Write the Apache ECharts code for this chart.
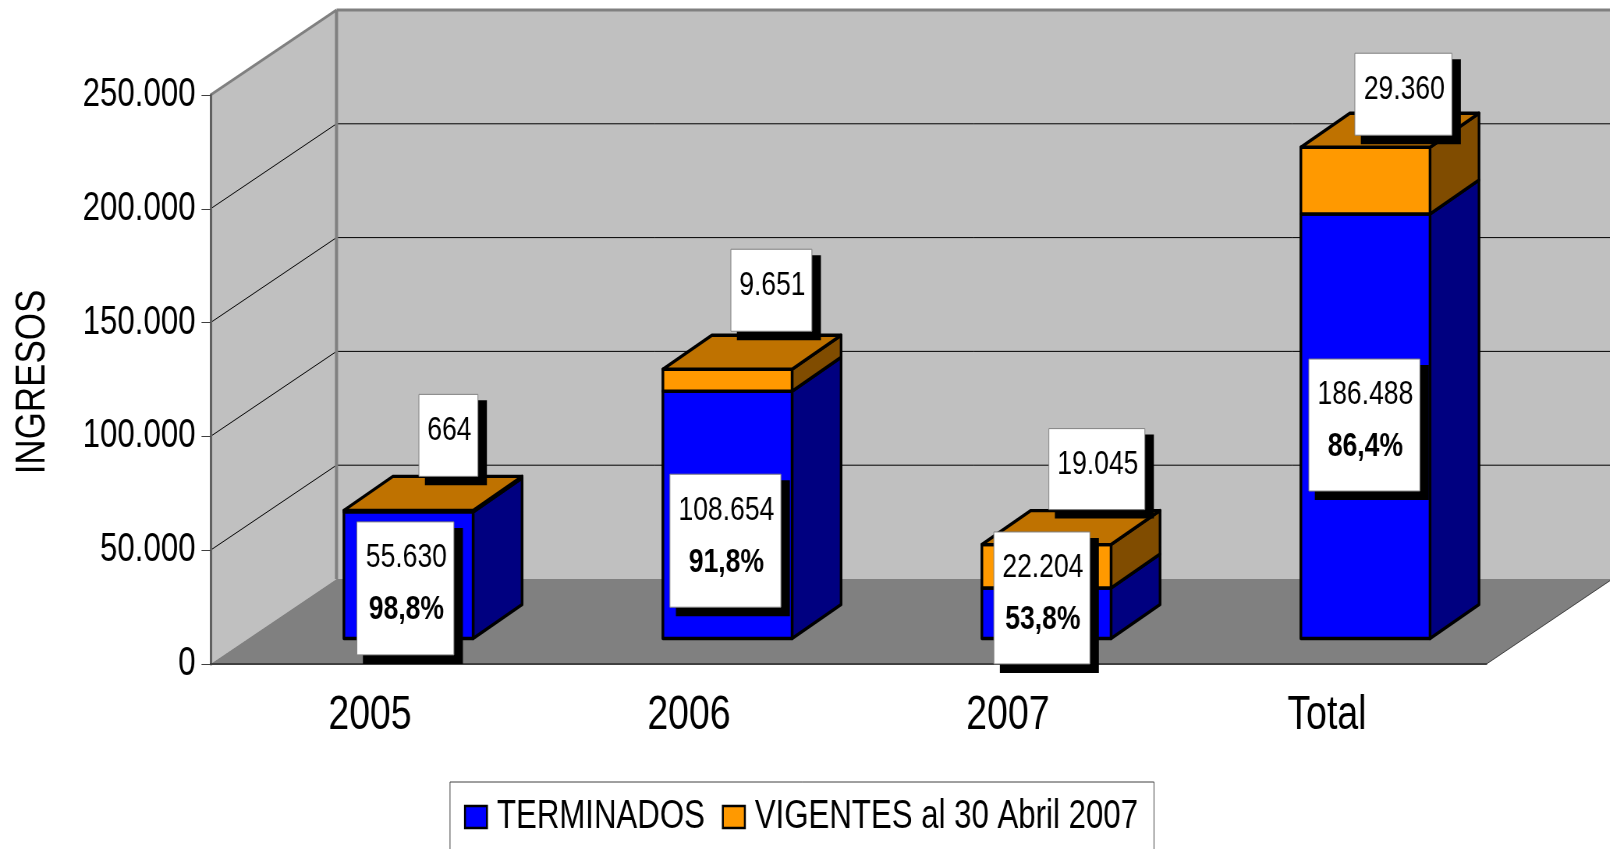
<!DOCTYPE html>
<html>
	<head>
		<meta charset="UTF-8">
		<title>Ingresos</title>
		<script src="https://cdn.jsdelivr.net/npm/echarts@6/dist/echarts.min.js"></script>
		<style>
			html,body{margin:0;padding:0;background:#fff;overflow:hidden}
			#page{width:1610px;height:849px;overflow:hidden}
			/* the lettering of the original is narrow and no narrow font is installed, so squeeze the chart */
			#chart_view{height:849px;transform-origin:0 0}
		</style>
	</head>
	<body>
		<div id="page"><div id="chart_view"></div></div>
	</body>
</html>
<script>
var categories = ['2005','2006','2007','Total'];
var terminados = [55630,108654,22204,186488];
var vigentes = [664,9651,19045,29360];
var porcentajes = ['98,8%','91,8%','53,8%','86,4%'];
var yTicks = [0,50000,100000,150000,200000,250000];

var nameTerminados = 'TERMINADOS';
var nameVigentes = 'VIGENTES al 30 Abril 2007';
var yTitle = 'INGRESOS';

var font = '"Liberation Sans",Arial,sans-serif';
var squeeze = 0.78;
function X(v){ return v/squeeze; }

var wallDepth = [X(126),-85];
var barDepth = [X(49),-34];
var barRatio = 0.405;

// label boxes, offset from the front left corner of the segment they belong to: dx, dy, w, h
var boxesTerminados = [[13,10,97,133],[7,83,111,133],[12,-56,96,132],[8,145,111,132]];
var boxesVigentes = [[75,-116,59,82],[68,-120,81,82],[67,-116,96,81],[54,-94,97,82]];

function fmt(v){
	return String(v).replace(/\B(?=(\d{3})+$)/g,'.');
}

function poly(points,fill,stroke,width){
	return {
		type:'polygon',
		shape:{points:points},
		style:{fill:fill,stroke:stroke || null,lineWidth:width || 0,lineJoin:'round'}
	};
}

function line(x1,y1,x2,y2,color,width){
	return {
		type:'line',
		shape:{x1:x1,y1:y1,x2:x2,y2:y2},
		style:{stroke:color,lineWidth:width,fill:null}
	};
}

function renderWalls(params,api){
	var c = params.coordSys;
	var x0 = c.x, x1 = c.x+c.width;
	var y0 = api.coord([0,0])[1], yTop = api.coord([0,250000])[1];
	var dx = wallDepth[0], dy = wallDepth[1];
	var kids = [
		poly([[x0,y0],[x0+dx,y0+dy],[x0+dx,yTop+dy],[x0,yTop]],'#c0c0c0'),
		poly([[x0+dx,y0+dy],[x1+dx,y0+dy],[x1+dx,yTop+dy],[x0+dx,yTop+dy]],'#c0c0c0'),
		poly([[x0,y0],[x1,y0],[x1+dx,y0+dy],[x0+dx,y0+dy]],'#808080')
	];
	yTicks.forEach(function(t){
		if(t == 0 || t == 250000) return;
		var y = api.coord([0,t])[1];
		kids.push(line(x0,y,x0+dx,y+dy,'#000',1));
		kids.push(line(x0+dx,y+dy,x1+dx,y+dy,'#000',1));
	});
	kids.push(line(x0,yTop,x0+dx,yTop+dy,'#808080',3));
	kids.push(line(x0+dx,yTop+dy,x1+dx,yTop+dy,'#808080',3));
	kids.push(line(x0+dx,yTop+dy,x0+dx,y0+dy,'#808080',4));
	kids.push(line(x1,y0,x1+dx,y0+dy,'#404040',1));
	return {type:'group',children:kids};
}

function segmentRender(front,side,topFace){
	return function(params,api){
		var i = api.value(0);
		var w = api.size([1,0])[0]*barRatio;
		var top = api.coord([i,api.value(1)]);
		var base = api.coord([i,api.value(2)]);
		var sx = (wallDepth[0]-barDepth[0])/2, sy = (wallDepth[1]-barDepth[1])/2;
		var l = top[0]-w/2+sx, r = top[0]+w/2+sx;
		var t = top[1]+sy, b = base[1]+sy;
		var dx = barDepth[0], dy = barDepth[1];
		var kids = [
			poly([[r,t],[r+dx,t+dy],[r+dx,b+dy],[r,b]],side,'#000',3.4),
			poly([[l,t],[r,t],[r,b],[l,b]],front,'#000',3.4)
		];
		if(topFace){
			kids.push(poly([[l,t],[l+dx,t+dy],[r+dx,t+dy],[r,t]],topFace,'#000',3.4));
		}
		return {type:'group',children:kids};
	};
}

function labelRender(boxes,lines){
	return function(params,api){
		var i = api.value(0);
		var w = api.size([1,0])[0]*barRatio;
		var top = api.coord([i,api.value(1)]);
		var sx = (wallDepth[0]-barDepth[0])/2, sy = (wallDepth[1]-barDepth[1])/2;
		var box = boxes[i];
		var x = top[0]-w/2+sx+X(box[0]), y = top[1]+sy+box[1];
		var bw = X(box[2]), bh = box[3];
		var kids = [
			{type:'rect',shape:{x:x+X(6),y:y+6,width:bw+X(3),height:bh+3},style:{fill:'#000'}},
			{type:'rect',shape:{x:x,y:y,width:bw,height:bh},style:{fill:'#fff',stroke:'#808080',lineWidth:1}},
			{type:'text',style:{text:fmt(api.value(2)),x:x+bw/2+X(1),y:y+36,font:'34px '+font,fill:'#000',align:'center',verticalAlign:'middle'}}
		];
		if(lines){
			kids.push({type:'text',style:{text:lines[i],x:x+bw/2+X(1),y:y+88,font:'bold 34px '+font,fill:'#000',align:'center',verticalAlign:'middle'}});
		}
		return {type:'group',children:kids};
	};
}

var terminadosData = terminados.map(function(v,i){ return [i,v,0]; });
var vigentesData = vigentes.map(function(v,i){ return [i,terminados[i]+v,terminados[i]]; });
var labelsT = terminados.map(function(v,i){ return [i,v,v]; });
var labelsV = vigentes.map(function(v,i){ return [i,terminados[i]+v,v]; });

var option = {
	animation:false,
	backgroundColor:'#fff',
	grid:{left:X(210.5),right:X(123.5),top:95,bottom:185,outerBoundsMode:'none'},
	xAxis:{
		type:'category',
		data:categories,
		z:2,
		axisLine:{lineStyle:{color:'#404040',width:2}},
		axisTick:{length:10,alignWithLabel:false,lineStyle:{color:'#404040',width:1}},
		axisLabel:{color:'#000',fontFamily:font,fontSize:48,margin:28},
		splitLine:{show:false}
	},
	yAxis:{
		type:'value',
		min:0,
		max:250000,
		interval:50000,
		z:2,
		axisLine:{show:true,lineStyle:{color:'#606060',width:3}},
		axisTick:{show:true,length:X(9),lineStyle:{color:'#404040',width:1}},
		axisLabel:{color:'#000',fontFamily:font,fontSize:40,margin:X(15),formatter:function(v){ return fmt(v); }},
		splitLine:{show:false}
	},
	// a rotated title has to be squeezed along its length too, an axis name can't do that
	graphic:[{
		type:'text',
		x:X(33),
		y:382,
		rotation:Math.PI/2,
		scaleX:0.648,
		style:{text:yTitle,font:'54px '+font,fill:'#000',align:'center',verticalAlign:'middle'}
	}],
	legend:{
		left:X(450),
		top:782,
		orient:'horizontal',
		padding:[15,X(16),40,X(14)],
		borderWidth:1,
		borderColor:'#404040',
		itemWidth:X(22),
		itemHeight:22,
		itemGap:X(17),
		textStyle:{color:'#000',fontFamily:font,fontSize:40,padding:[0,0,0,X(6)]},
		data:[
			{name:nameTerminados,icon:'rect',itemStyle:{color:'#0000ff',borderColor:'#000',borderWidth:2.5}},
			{name:nameVigentes,icon:'rect',itemStyle:{color:'#ff9900',borderColor:'#000',borderWidth:2.5}}
		]
	},
	series:[
		{type:'custom',name:'walls',z:1,silent:true,data:[[0,0]],renderItem:renderWalls},
		{type:'custom',name:nameTerminados,z:3,silent:true,data:terminadosData,encode:{x:0,y:1},itemStyle:{color:'#0000ff'},renderItem:segmentRender('#0000ff','#000080',null)},
		{type:'custom',name:nameVigentes,z:3,silent:true,data:vigentesData,encode:{x:0,y:1},itemStyle:{color:'#ff9900'},renderItem:segmentRender('#ff9900','#804c00','#bf7200')},
		{type:'custom',name:'labelsV',z:4,silent:true,data:labelsV,encode:{x:0,y:1},renderItem:labelRender(boxesVigentes,null)},
		{type:'custom',name:'labelsT',z:5,silent:true,data:labelsT,encode:{x:0,y:1},renderItem:labelRender(boxesTerminados,porcentajes)}
	]
};
var view = document.getElementById('chart_view');
view.style.width = X(1610)+'px';
view.style.transform = 'scaleX('+squeeze+')';
var chart = echarts.init(view,null,{renderer:'canvas'});
chart.setOption(option);
</script>
